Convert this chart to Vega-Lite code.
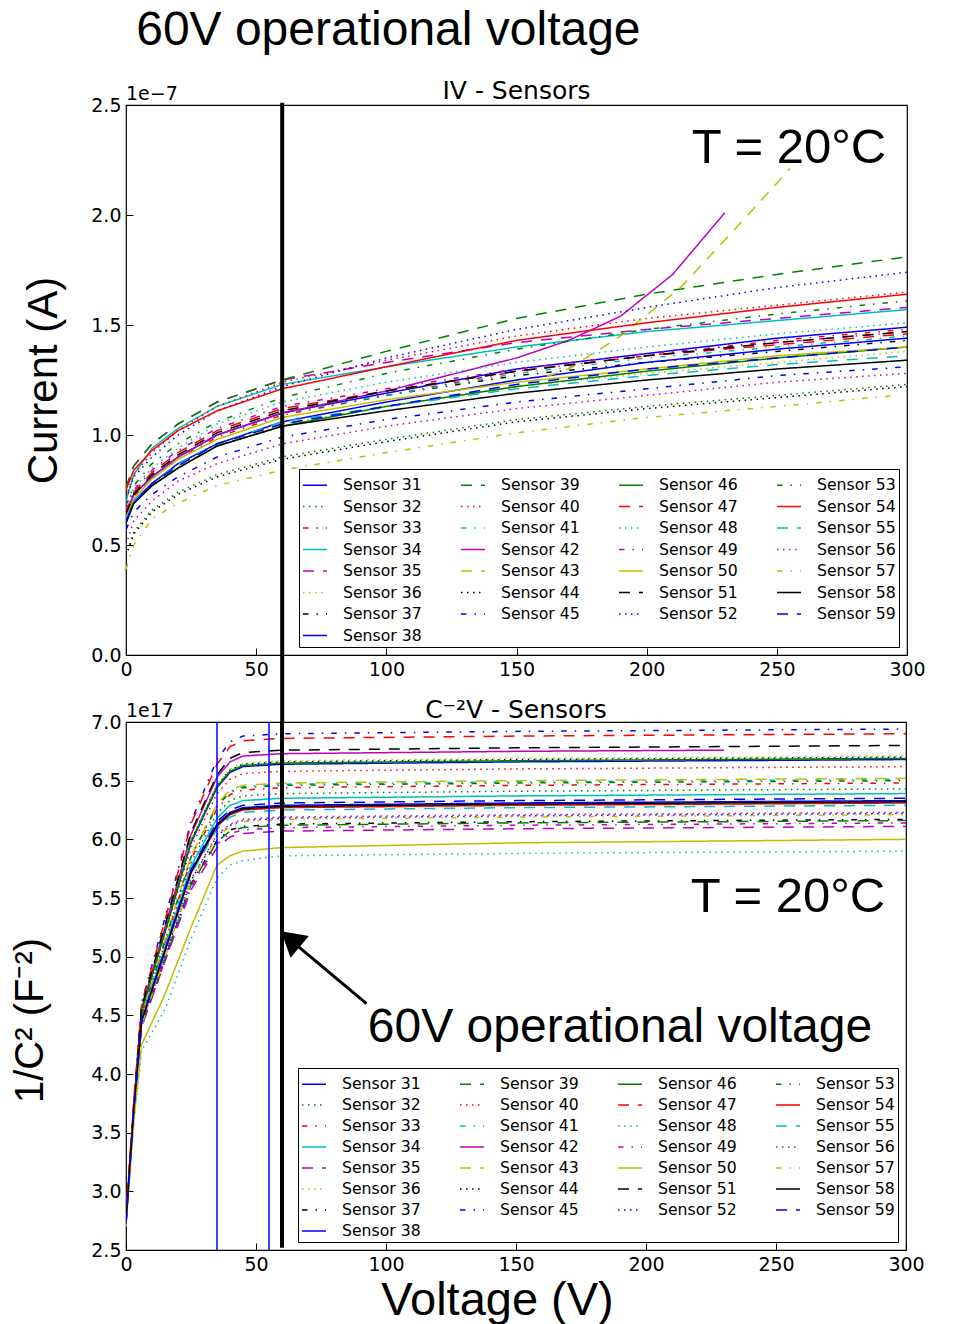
{
"$schema": "https://vega.github.io/schema/vega-lite/v6.json",
"background": "white",
"padding": {"left": 10, "top": 7, "right": 5, "bottom": 0},
"config": {
  "font": "DejaVu Sans",
  "view": {"stroke": "black", "strokeWidth": 1.2},
  "axis": {"domain": false, "grid": false, "labelFont": "DejaVu Sans", "labelFontSize": 19, "labelColor": "black", "tickColor": "black", "tickSize": -7, "labelPadding": 12, "labelFlush": false, "labelOverlap": false, "titleFont": "Liberation Sans", "titleFontWeight": "normal", "titleColor": "black"},
  "legend": {"orient": "bottom-right", "direction": "horizontal", "offset": 8, "columns": 4, "symbolType": "stroke", "symbolSize": 576, "symbolStrokeWidth": 1.5, "labelFont": "DejaVu Sans", "labelFontSize": 15.7, "labelColor": "black", "labelOffset": 15, "columnPadding": 36, "rowPadding": 0.5, "padding": 3, "strokeColor": "black", "fillColor": "white", "labelLimit": 0}
},
"title": {"text": "60V operational voltage", "font": "Liberation Sans", "fontSize": 48, "fontWeight": "normal", "color": "black", "anchor": "start", "dx": 126, "offset": 23},
"datasets": {
"iv": [
{"s":31,"v":0,"y":0.64},{"s":31,"v":3,"y":0.73},{"s":31,"v":10,"y":0.81},{"s":31,"v":20,"y":0.90},{"s":31,"v":35,"y":1.00},{"s":31,"v":60,"y":1.10},{"s":31,"v":100,"y":1.19},{"s":31,"v":150,"y":1.30},{"s":31,"v":200,"y":1.37},{"s":31,"v":250,"y":1.44},{"s":31,"v":300,"y":1.49},
{"s":32,"v":0,"y":0.45},{"s":32,"v":3,"y":0.56},{"s":32,"v":10,"y":0.66},{"s":32,"v":20,"y":0.74},{"s":32,"v":35,"y":0.82},{"s":32,"v":60,"y":0.90},{"s":32,"v":100,"y":0.98},{"s":32,"v":150,"y":1.07},{"s":32,"v":200,"y":1.13},{"s":32,"v":250,"y":1.18},{"s":32,"v":300,"y":1.23},
{"s":33,"v":0,"y":0.63},{"s":33,"v":3,"y":0.72},{"s":33,"v":10,"y":0.81},{"s":33,"v":20,"y":0.89},{"s":33,"v":35,"y":0.99},{"s":33,"v":60,"y":1.09},{"s":33,"v":100,"y":1.18},{"s":33,"v":150,"y":1.29},{"s":33,"v":200,"y":1.36},{"s":33,"v":250,"y":1.43},{"s":33,"v":300,"y":1.48},
{"s":34,"v":0,"y":0.70},{"s":34,"v":3,"y":0.82},{"s":34,"v":10,"y":0.94},{"s":34,"v":20,"y":1.03},{"s":34,"v":35,"y":1.13},{"s":34,"v":60,"y":1.23},{"s":34,"v":100,"y":1.31},{"s":34,"v":150,"y":1.40},{"s":34,"v":200,"y":1.47},{"s":34,"v":250,"y":1.52},{"s":34,"v":300,"y":1.57},
{"s":35,"v":0,"y":0.76},{"s":35,"v":3,"y":0.86},{"s":35,"v":10,"y":0.96},{"s":35,"v":20,"y":1.05},{"s":35,"v":35,"y":1.15},{"s":35,"v":60,"y":1.25},{"s":35,"v":100,"y":1.33},{"s":35,"v":150,"y":1.42},{"s":35,"v":200,"y":1.48},{"s":35,"v":250,"y":1.53},{"s":35,"v":300,"y":1.58},
{"s":36,"v":0,"y":0.61},{"s":36,"v":3,"y":0.69},{"s":36,"v":10,"y":0.78},{"s":36,"v":20,"y":0.86},{"s":36,"v":35,"y":0.96},{"s":36,"v":60,"y":1.05},{"s":36,"v":100,"y":1.13},{"s":36,"v":150,"y":1.22},{"s":36,"v":200,"y":1.28},{"s":36,"v":250,"y":1.33},{"s":36,"v":300,"y":1.38},
{"s":37,"v":0,"y":0.64},{"s":37,"v":3,"y":0.73},{"s":37,"v":10,"y":0.81},{"s":37,"v":20,"y":0.90},{"s":37,"v":35,"y":1.00},{"s":37,"v":60,"y":1.10},{"s":37,"v":100,"y":1.18},{"s":37,"v":150,"y":1.27},{"s":37,"v":200,"y":1.33},{"s":37,"v":250,"y":1.38},{"s":37,"v":300,"y":1.43},
{"s":38,"v":0,"y":0.61},{"s":38,"v":3,"y":0.70},{"s":38,"v":10,"y":0.78},{"s":38,"v":20,"y":0.87},{"s":38,"v":35,"y":0.96},{"s":38,"v":60,"y":1.06},{"s":38,"v":100,"y":1.15},{"s":38,"v":150,"y":1.25},{"s":38,"v":200,"y":1.33},{"s":38,"v":250,"y":1.39},{"s":38,"v":300,"y":1.44},
{"s":39,"v":0,"y":0.76},{"s":39,"v":3,"y":0.86},{"s":39,"v":10,"y":0.96},{"s":39,"v":20,"y":1.05},{"s":39,"v":35,"y":1.15},{"s":39,"v":60,"y":1.25},{"s":39,"v":100,"y":1.38},{"s":39,"v":150,"y":1.53},{"s":39,"v":200,"y":1.64},{"s":39,"v":250,"y":1.73},{"s":39,"v":300,"y":1.81},
{"s":40,"v":0,"y":0.72},{"s":40,"v":3,"y":0.82},{"s":40,"v":10,"y":0.92},{"s":40,"v":20,"y":1.02},{"s":40,"v":35,"y":1.13},{"s":40,"v":60,"y":1.24},{"s":40,"v":100,"y":1.34},{"s":40,"v":150,"y":1.45},{"s":40,"v":200,"y":1.53},{"s":40,"v":250,"y":1.59},{"s":40,"v":300,"y":1.65},
{"s":41,"v":0,"y":0.64},{"s":41,"v":3,"y":0.73},{"s":41,"v":10,"y":0.81},{"s":41,"v":20,"y":0.90},{"s":41,"v":35,"y":1.00},{"s":41,"v":60,"y":1.10},{"s":41,"v":100,"y":1.18},{"s":41,"v":150,"y":1.28},{"s":41,"v":200,"y":1.35},{"s":41,"v":250,"y":1.40},{"s":41,"v":300,"y":1.45},
{"s":42,"v":0,"y":0.64},{"s":42,"v":3,"y":0.73},{"s":42,"v":10,"y":0.81},{"s":42,"v":20,"y":0.90},{"s":42,"v":35,"y":1.00},{"s":42,"v":60,"y":1.10},{"s":42,"v":100,"y":1.20},{"s":42,"v":150,"y":1.35},{"s":42,"v":170,"y":1.43},{"s":42,"v":190,"y":1.54},{"s":42,"v":210,"y":1.73},{"s":42,"v":230,"y":2.01},
{"s":43,"v":0,"y":0.61},{"s":43,"v":3,"y":0.69},{"s":43,"v":10,"y":0.78},{"s":43,"v":20,"y":0.86},{"s":43,"v":35,"y":0.96},{"s":43,"v":60,"y":1.05},{"s":43,"v":100,"y":1.13},{"s":43,"v":150,"y":1.22},{"s":43,"v":170,"y":1.30},{"s":43,"v":190,"y":1.45},{"s":43,"v":213,"y":1.67},{"s":43,"v":235,"y":1.95},{"s":43,"v":255,"y":2.21},
{"s":44,"v":0,"y":0.45},{"s":44,"v":3,"y":0.55},{"s":44,"v":10,"y":0.65},{"s":44,"v":20,"y":0.73},{"s":44,"v":35,"y":0.81},{"s":44,"v":60,"y":0.89},{"s":44,"v":100,"y":0.97},{"s":44,"v":150,"y":1.06},{"s":44,"v":200,"y":1.12},{"s":44,"v":250,"y":1.17},{"s":44,"v":300,"y":1.22},
{"s":45,"v":0,"y":0.57},{"s":45,"v":3,"y":0.65},{"s":45,"v":10,"y":0.73},{"s":45,"v":20,"y":0.81},{"s":45,"v":35,"y":0.90},{"s":45,"v":60,"y":0.99},{"s":45,"v":100,"y":1.07},{"s":45,"v":150,"y":1.15},{"s":45,"v":200,"y":1.21},{"s":45,"v":250,"y":1.27},{"s":45,"v":300,"y":1.31},
{"s":46,"v":0,"y":0.60},{"s":46,"v":3,"y":0.69},{"s":46,"v":10,"y":0.77},{"s":46,"v":20,"y":0.85},{"s":46,"v":35,"y":0.95},{"s":46,"v":60,"y":1.04},{"s":46,"v":100,"y":1.13},{"s":46,"v":150,"y":1.22},{"s":46,"v":200,"y":1.29},{"s":46,"v":250,"y":1.35},{"s":46,"v":300,"y":1.40},
{"s":47,"v":0,"y":0.65},{"s":47,"v":3,"y":0.74},{"s":47,"v":10,"y":0.83},{"s":47,"v":20,"y":0.92},{"s":47,"v":35,"y":1.02},{"s":47,"v":60,"y":1.12},{"s":47,"v":100,"y":1.20},{"s":47,"v":150,"y":1.29},{"s":47,"v":200,"y":1.36},{"s":47,"v":250,"y":1.41},{"s":47,"v":300,"y":1.46},
{"s":48,"v":0,"y":0.67},{"s":48,"v":3,"y":0.76},{"s":48,"v":10,"y":0.85},{"s":48,"v":20,"y":0.94},{"s":48,"v":35,"y":1.05},{"s":48,"v":60,"y":1.15},{"s":48,"v":100,"y":1.24},{"s":48,"v":150,"y":1.33},{"s":48,"v":200,"y":1.40},{"s":48,"v":250,"y":1.46},{"s":48,"v":300,"y":1.51},
{"s":49,"v":0,"y":0.66},{"s":49,"v":3,"y":0.75},{"s":49,"v":10,"y":0.84},{"s":49,"v":20,"y":0.93},{"s":49,"v":35,"y":1.03},{"s":49,"v":60,"y":1.13},{"s":49,"v":100,"y":1.21},{"s":49,"v":150,"y":1.30},{"s":49,"v":200,"y":1.37},{"s":49,"v":250,"y":1.42},{"s":49,"v":300,"y":1.47},
{"s":50,"v":0,"y":0.63},{"s":50,"v":3,"y":0.71},{"s":50,"v":10,"y":0.80},{"s":50,"v":20,"y":0.89},{"s":50,"v":35,"y":0.98},{"s":50,"v":60,"y":1.08},{"s":50,"v":100,"y":1.16},{"s":50,"v":150,"y":1.24},{"s":50,"v":200,"y":1.30},{"s":50,"v":250,"y":1.36},{"s":50,"v":300,"y":1.40},
{"s":51,"v":0,"y":0.64},{"s":51,"v":3,"y":0.73},{"s":51,"v":10,"y":0.82},{"s":51,"v":20,"y":0.91},{"s":51,"v":35,"y":1.01},{"s":51,"v":60,"y":1.11},{"s":51,"v":100,"y":1.20},{"s":51,"v":150,"y":1.29},{"s":51,"v":200,"y":1.36},{"s":51,"v":250,"y":1.42},{"s":51,"v":300,"y":1.47},
{"s":52,"v":0,"y":0.71},{"s":52,"v":3,"y":0.81},{"s":52,"v":10,"y":0.90},{"s":52,"v":20,"y":1.00},{"s":52,"v":35,"y":1.11},{"s":52,"v":60,"y":1.22},{"s":52,"v":100,"y":1.35},{"s":52,"v":150,"y":1.48},{"s":52,"v":200,"y":1.58},{"s":52,"v":250,"y":1.67},{"s":52,"v":300,"y":1.74},
{"s":53,"v":0,"y":0.68},{"s":53,"v":3,"y":0.77},{"s":53,"v":10,"y":0.87},{"s":53,"v":20,"y":0.96},{"s":53,"v":35,"y":1.06},{"s":53,"v":60,"y":1.17},{"s":53,"v":100,"y":1.28},{"s":53,"v":150,"y":1.39},{"s":53,"v":200,"y":1.48},{"s":53,"v":250,"y":1.55},{"s":53,"v":300,"y":1.61},
{"s":54,"v":0,"y":0.75},{"s":54,"v":3,"y":0.84},{"s":54,"v":10,"y":0.93},{"s":54,"v":20,"y":1.02},{"s":54,"v":35,"y":1.11},{"s":54,"v":60,"y":1.21},{"s":54,"v":100,"y":1.31},{"s":54,"v":150,"y":1.43},{"s":54,"v":200,"y":1.51},{"s":54,"v":250,"y":1.58},{"s":54,"v":300,"y":1.64},
{"s":55,"v":0,"y":0.61},{"s":55,"v":3,"y":0.70},{"s":55,"v":10,"y":0.78},{"s":55,"v":20,"y":0.87},{"s":55,"v":35,"y":0.96},{"s":55,"v":60,"y":1.06},{"s":55,"v":100,"y":1.13},{"s":55,"v":150,"y":1.21},{"s":55,"v":200,"y":1.27},{"s":55,"v":250,"y":1.32},{"s":55,"v":300,"y":1.36},
{"s":56,"v":0,"y":0.50},{"s":56,"v":3,"y":0.61},{"s":56,"v":10,"y":0.70},{"s":56,"v":20,"y":0.79},{"s":56,"v":35,"y":0.87},{"s":56,"v":60,"y":0.96},{"s":56,"v":100,"y":1.04},{"s":56,"v":150,"y":1.12},{"s":56,"v":200,"y":1.18},{"s":56,"v":250,"y":1.24},{"s":56,"v":300,"y":1.28},
{"s":57,"v":0,"y":0.39},{"s":57,"v":3,"y":0.50},{"s":57,"v":10,"y":0.62},{"s":57,"v":20,"y":0.69},{"s":57,"v":35,"y":0.77},{"s":57,"v":60,"y":0.84},{"s":57,"v":100,"y":0.92},{"s":57,"v":150,"y":1.01},{"s":57,"v":200,"y":1.08},{"s":57,"v":250,"y":1.13},{"s":57,"v":296,"y":1.18},
{"s":58,"v":0,"y":0.60},{"s":58,"v":3,"y":0.69},{"s":58,"v":10,"y":0.77},{"s":58,"v":20,"y":0.85},{"s":58,"v":35,"y":0.95},{"s":58,"v":60,"y":1.04},{"s":58,"v":100,"y":1.11},{"s":58,"v":150,"y":1.19},{"s":58,"v":200,"y":1.25},{"s":58,"v":250,"y":1.30},{"s":58,"v":300,"y":1.34},
{"s":59,"v":0,"y":0.61},{"s":59,"v":3,"y":0.69},{"s":59,"v":10,"y":0.78},{"s":59,"v":20,"y":0.86},{"s":59,"v":35,"y":0.96},{"s":59,"v":60,"y":1.05},{"s":59,"v":100,"y":1.13},{"s":59,"v":150,"y":1.23},{"s":59,"v":200,"y":1.30},{"s":59,"v":250,"y":1.35},{"s":59,"v":300,"y":1.40}
],
"cv": [
{"s":31,"v":0,"y":2.73},{"s":31,"v":3,"y":3.70},{"s":31,"v":6,"y":4.54},{"s":31,"v":15,"y":5.21},{"s":31,"v":25,"y":5.97},{"s":31,"v":35,"y":6.44},{"s":31,"v":40,"y":6.57},{"s":31,"v":45,"y":6.62},{"s":31,"v":60,"y":6.64},{"s":31,"v":150,"y":6.66},{"s":31,"v":300,"y":6.68},
{"s":32,"v":0,"y":2.75},{"s":32,"v":3,"y":3.72},{"s":32,"v":6,"y":4.48},{"s":32,"v":15,"y":5.10},{"s":32,"v":25,"y":5.80},{"s":32,"v":35,"y":6.22},{"s":32,"v":40,"y":6.33},{"s":32,"v":45,"y":6.37},{"s":32,"v":60,"y":6.39},{"s":32,"v":150,"y":6.41},{"s":32,"v":300,"y":6.43},
{"s":33,"v":0,"y":2.80},{"s":33,"v":3,"y":3.76},{"s":33,"v":6,"y":4.49},{"s":33,"v":15,"y":5.12},{"s":33,"v":25,"y":5.83},{"s":33,"v":35,"y":6.26},{"s":33,"v":40,"y":6.38},{"s":33,"v":45,"y":6.42},{"s":33,"v":60,"y":6.44},{"s":33,"v":150,"y":6.46},{"s":33,"v":300,"y":6.48},
{"s":34,"v":0,"y":2.75},{"s":34,"v":3,"y":3.72},{"s":34,"v":6,"y":4.47},{"s":34,"v":15,"y":5.08},{"s":34,"v":25,"y":5.77},{"s":34,"v":35,"y":6.18},{"s":34,"v":40,"y":6.29},{"s":34,"v":45,"y":6.33},{"s":34,"v":60,"y":6.35},{"s":34,"v":150,"y":6.37},{"s":34,"v":300,"y":6.39},
{"s":35,"v":0,"y":2.75},{"s":35,"v":3,"y":3.70},{"s":35,"v":6,"y":4.40},{"s":35,"v":15,"y":4.96},{"s":35,"v":25,"y":5.57},{"s":35,"v":35,"y":5.93},{"s":35,"v":40,"y":6.02},{"s":35,"v":45,"y":6.05},{"s":35,"v":60,"y":6.07},{"s":35,"v":150,"y":6.09},{"s":35,"v":300,"y":6.11},
{"s":36,"v":0,"y":2.72},{"s":36,"v":3,"y":3.70},{"s":36,"v":6,"y":4.55},{"s":36,"v":15,"y":5.23},{"s":36,"v":25,"y":5.99},{"s":36,"v":35,"y":6.47},{"s":36,"v":40,"y":6.60},{"s":36,"v":45,"y":6.65},{"s":36,"v":60,"y":6.67},{"s":36,"v":150,"y":6.69},{"s":36,"v":300,"y":6.71},
{"s":37,"v":0,"y":2.75},{"s":37,"v":3,"y":3.70},{"s":37,"v":6,"y":4.41},{"s":37,"v":15,"y":4.98},{"s":37,"v":25,"y":5.62},{"s":37,"v":35,"y":5.99},{"s":37,"v":40,"y":6.08},{"s":37,"v":45,"y":6.11},{"s":37,"v":60,"y":6.13},{"s":37,"v":150,"y":6.15},{"s":37,"v":300,"y":6.17},
{"s":38,"v":0,"y":2.72},{"s":38,"v":3,"y":3.68},{"s":38,"v":6,"y":4.45},{"s":38,"v":15,"y":5.05},{"s":38,"v":25,"y":5.73},{"s":38,"v":35,"y":6.13},{"s":38,"v":40,"y":6.23},{"s":38,"v":45,"y":6.27},{"s":38,"v":60,"y":6.29},{"s":38,"v":150,"y":6.31},{"s":38,"v":300,"y":6.33},
{"s":39,"v":0,"y":2.75},{"s":39,"v":3,"y":3.70},{"s":39,"v":6,"y":4.41},{"s":39,"v":15,"y":4.98},{"s":39,"v":25,"y":5.61},{"s":39,"v":35,"y":5.98},{"s":39,"v":40,"y":6.07},{"s":39,"v":45,"y":6.10},{"s":39,"v":60,"y":6.12},{"s":39,"v":150,"y":6.14},{"s":39,"v":300,"y":6.16},
{"s":40,"v":0,"y":2.78},{"s":40,"v":3,"y":3.75},{"s":40,"v":6,"y":4.53},{"s":40,"v":15,"y":5.19},{"s":40,"v":25,"y":5.93},{"s":40,"v":35,"y":6.39},{"s":40,"v":40,"y":6.51},{"s":40,"v":45,"y":6.56},{"s":40,"v":60,"y":6.58},{"s":40,"v":150,"y":6.60},{"s":40,"v":300,"y":6.62},
{"s":41,"v":0,"y":2.75},{"s":41,"v":3,"y":3.72},{"s":41,"v":6,"y":4.50},{"s":41,"v":15,"y":5.14},{"s":41,"v":25,"y":5.85},{"s":41,"v":35,"y":6.29},{"s":41,"v":40,"y":6.41},{"s":41,"v":45,"y":6.45},{"s":41,"v":60,"y":6.47},{"s":41,"v":150,"y":6.49},{"s":41,"v":300,"y":6.51},
{"s":42,"v":0,"y":2.75},{"s":42,"v":3,"y":3.72},{"s":42,"v":6,"y":4.56},{"s":42,"v":15,"y":5.25},{"s":42,"v":25,"y":6.04},{"s":42,"v":35,"y":6.53},{"s":42,"v":40,"y":6.66},{"s":42,"v":45,"y":6.71},{"s":42,"v":60,"y":6.73},{"s":42,"v":150,"y":6.75},{"s":42,"v":230,"y":6.76},
{"s":43,"v":0,"y":2.72},{"s":43,"v":3,"y":3.70},{"s":43,"v":6,"y":4.50},{"s":43,"v":15,"y":5.14},{"s":43,"v":25,"y":5.86},{"s":43,"v":35,"y":6.30},{"s":43,"v":40,"y":6.42},{"s":43,"v":45,"y":6.46},{"s":43,"v":60,"y":6.48},{"s":43,"v":150,"y":6.50},{"s":43,"v":300,"y":6.52},
{"s":44,"v":0,"y":2.75},{"s":44,"v":3,"y":3.72},{"s":44,"v":6,"y":4.55},{"s":44,"v":15,"y":5.22},{"s":44,"v":25,"y":5.99},{"s":44,"v":35,"y":6.46},{"s":44,"v":40,"y":6.59},{"s":44,"v":45,"y":6.64},{"s":44,"v":60,"y":6.66},{"s":44,"v":150,"y":6.68},{"s":44,"v":300,"y":6.70},
{"s":45,"v":0,"y":2.75},{"s":45,"v":3,"y":3.72},{"s":45,"v":6,"y":4.61},{"s":45,"v":15,"y":5.33},{"s":45,"v":25,"y":6.15},{"s":45,"v":35,"y":6.68},{"s":45,"v":40,"y":6.83},{"s":45,"v":45,"y":6.88},{"s":45,"v":60,"y":6.90},{"s":45,"v":150,"y":6.92},{"s":45,"v":300,"y":6.94},
{"s":46,"v":0,"y":2.75},{"s":46,"v":3,"y":3.72},{"s":46,"v":6,"y":4.54},{"s":46,"v":15,"y":5.22},{"s":46,"v":25,"y":5.98},{"s":46,"v":35,"y":6.45},{"s":46,"v":40,"y":6.58},{"s":46,"v":45,"y":6.63},{"s":46,"v":60,"y":6.65},{"s":46,"v":150,"y":6.67},{"s":46,"v":300,"y":6.69},
{"s":47,"v":0,"y":2.80},{"s":47,"v":3,"y":3.78},{"s":47,"v":6,"y":4.60},{"s":47,"v":15,"y":5.31},{"s":47,"v":25,"y":6.13},{"s":47,"v":35,"y":6.64},{"s":47,"v":40,"y":6.79},{"s":47,"v":45,"y":6.84},{"s":47,"v":60,"y":6.86},{"s":47,"v":150,"y":6.88},{"s":47,"v":300,"y":6.90},
{"s":48,"v":0,"y":2.70},{"s":48,"v":3,"y":3.58},{"s":48,"v":6,"y":4.20},{"s":48,"v":15,"y":4.55},{"s":48,"v":25,"y":5.15},{"s":48,"v":35,"y":5.67},{"s":48,"v":40,"y":5.78},{"s":48,"v":45,"y":5.82},{"s":48,"v":60,"y":5.86},{"s":48,"v":150,"y":5.88},{"s":48,"v":300,"y":5.90},
{"s":49,"v":0,"y":2.75},{"s":49,"v":3,"y":3.70},{"s":49,"v":6,"y":4.41},{"s":49,"v":15,"y":4.97},{"s":49,"v":25,"y":5.59},{"s":49,"v":35,"y":5.96},{"s":49,"v":40,"y":6.05},{"s":49,"v":45,"y":6.08},{"s":49,"v":60,"y":6.10},{"s":49,"v":150,"y":6.12},{"s":49,"v":300,"y":6.14},
{"s":50,"v":0,"y":2.72},{"s":50,"v":3,"y":3.60},{"s":50,"v":6,"y":4.25},{"s":50,"v":15,"y":4.68},{"s":50,"v":25,"y":5.25},{"s":50,"v":35,"y":5.78},{"s":50,"v":40,"y":5.86},{"s":50,"v":45,"y":5.90},{"s":50,"v":60,"y":5.93},{"s":50,"v":150,"y":5.97},{"s":50,"v":300,"y":6.00},
{"s":51,"v":0,"y":2.75},{"s":51,"v":3,"y":3.72},{"s":51,"v":6,"y":4.57},{"s":51,"v":15,"y":5.27},{"s":51,"v":25,"y":6.06},{"s":51,"v":35,"y":6.55},{"s":51,"v":40,"y":6.69},{"s":51,"v":45,"y":6.74},{"s":51,"v":60,"y":6.76},{"s":51,"v":150,"y":6.78},{"s":51,"v":300,"y":6.80},
{"s":52,"v":0,"y":2.73},{"s":52,"v":3,"y":3.70},{"s":52,"v":6,"y":4.43},{"s":52,"v":15,"y":5.01},{"s":52,"v":25,"y":5.65},{"s":52,"v":35,"y":6.03},{"s":52,"v":40,"y":6.12},{"s":52,"v":45,"y":6.16},{"s":52,"v":60,"y":6.18},{"s":52,"v":150,"y":6.20},{"s":52,"v":300,"y":6.22},
{"s":53,"v":0,"y":2.75},{"s":53,"v":3,"y":3.72},{"s":53,"v":6,"y":4.50},{"s":53,"v":15,"y":5.13},{"s":53,"v":25,"y":5.85},{"s":53,"v":35,"y":6.28},{"s":53,"v":40,"y":6.40},{"s":53,"v":45,"y":6.44},{"s":53,"v":60,"y":6.46},{"s":53,"v":150,"y":6.48},{"s":53,"v":300,"y":6.50},
{"s":54,"v":0,"y":2.78},{"s":54,"v":3,"y":3.74},{"s":54,"v":6,"y":4.45},{"s":54,"v":15,"y":5.05},{"s":54,"v":25,"y":5.71},{"s":54,"v":35,"y":6.11},{"s":54,"v":40,"y":6.21},{"s":54,"v":45,"y":6.25},{"s":54,"v":60,"y":6.27},{"s":54,"v":150,"y":6.29},{"s":54,"v":300,"y":6.31},
{"s":55,"v":0,"y":2.75},{"s":55,"v":3,"y":3.70},{"s":55,"v":6,"y":4.44},{"s":55,"v":15,"y":5.04},{"s":55,"v":25,"y":5.70},{"s":55,"v":35,"y":6.09},{"s":55,"v":40,"y":6.19},{"s":55,"v":45,"y":6.23},{"s":55,"v":60,"y":6.25},{"s":55,"v":150,"y":6.27},{"s":55,"v":300,"y":6.29},
{"s":56,"v":0,"y":2.75},{"s":56,"v":3,"y":3.70},{"s":56,"v":6,"y":4.43},{"s":56,"v":15,"y":5.01},{"s":56,"v":25,"y":5.66},{"s":56,"v":35,"y":6.04},{"s":56,"v":40,"y":6.13},{"s":56,"v":45,"y":6.17},{"s":56,"v":60,"y":6.19},{"s":56,"v":150,"y":6.21},{"s":56,"v":300,"y":6.23},
{"s":57,"v":0,"y":2.70},{"s":57,"v":3,"y":3.68},{"s":57,"v":6,"y":4.42},{"s":57,"v":15,"y":5.00},{"s":57,"v":25,"y":5.64},{"s":57,"v":35,"y":6.02},{"s":57,"v":40,"y":6.11},{"s":57,"v":45,"y":6.15},{"s":57,"v":60,"y":6.17},{"s":57,"v":150,"y":6.19},{"s":57,"v":300,"y":6.21},
{"s":58,"v":0,"y":2.75},{"s":58,"v":3,"y":3.70},{"s":58,"v":6,"y":4.45},{"s":58,"v":15,"y":5.05},{"s":58,"v":25,"y":5.72},{"s":58,"v":35,"y":6.12},{"s":58,"v":40,"y":6.22},{"s":58,"v":45,"y":6.26},{"s":58,"v":60,"y":6.28},{"s":58,"v":150,"y":6.30},{"s":58,"v":300,"y":6.32},
{"s":59,"v":0,"y":2.72},{"s":59,"v":3,"y":3.68},{"s":59,"v":6,"y":4.46},{"s":59,"v":15,"y":5.06},{"s":59,"v":25,"y":5.74},{"s":59,"v":35,"y":6.15},{"s":59,"v":40,"y":6.25},{"s":59,"v":45,"y":6.29},{"s":59,"v":60,"y":6.31},{"s":59,"v":150,"y":6.33},{"s":59,"v":300,"y":6.35}
]
},
"bounds": "flush",
"spacing": 67,
"resolve": {"scale": {"color": "independent", "strokeDash": "independent"}, "legend": {"color": "independent", "strokeDash": "independent"}},
"vconcat": [
{
  "width": 781, "height": 550,
  "title": {"text": "IV - Sensors", "font": "DejaVu Sans", "fontSize": 25, "fontWeight": "normal", "color": "black", "offset": -19},
  "layer": [
    {
      "data": {"name": "iv"},
      "mark": {"type": "line", "strokeWidth": 1.5, "clip": true},
      "encoding": {
        "x": {"field": "v", "type": "quantitative", "scale": {"domain": [0, 300], "nice": false}, "axis": {"values": [0, 50, 100, 150, 200, 250, 300], "title": null}},
        "y": {"field": "y", "type": "quantitative", "scale": {"domain": [0, 2.5], "nice": false}, "axis": {"values": [0, 0.5, 1.0, 1.5, 2.0, 2.5], "format": ".1f", "title": "Current (A)", "titleFontSize": 42, "titlePadding": 25}},
        "color": {"field": "s", "type": "nominal", "sort": null,
          "scale": {"domain": [31,39,46,53,32,40,47,54,33,41,48,55,34,42,49,56,35,43,50,57,36,44,51,58,37,45,52,59,38],
                    "range": ["#0000ff","#008000","#008000","#008000","#008000","#ff0000","#ff0000","#ff0000","#ff0000","#00bfbf","#00bfbf","#00bfbf","#00bfbf","#bf00bf","#bf00bf","#bf00bf","#bf00bf","#bfbf00","#bfbf00","#bfbf00","#bfbf00","#000000","#000000","#000000","#000000","#0000ff","#0000ff","#0000ff","#0000ff"]},
          "legend": {"title": null, "labelExpr": "'Sensor ' + datum.label"}},
        "strokeDash": {"field": "s", "type": "nominal", "sort": null,
          "scale": {"domain": [31,39,46,53,32,40,47,54,33,41,48,55,34,42,49,56,35,43,50,57,36,44,51,58,37,45,52,59,38],
                    "range": [[1,0],[11,9],[1,0],[5.5,8,1.5,8],[1.5,4.5],[1.5,4.5],[11,9],[1,0],[5.5,8,1.5,8],[5.5,8,1.5,8],[1.5,4.5],[11,9],[1,0],[1,0],[5.5,8,1.5,8],[1.5,4.5],[11,9],[11,9],[1,0],[5.5,8,1.5,8],[1.5,4.5],[1.5,4.5],[11,9],[1,0],[5.5,8,1.5,8],[5.5,8,1.5,8],[1.5,4.5],[11,9],[1,0]]},
          "legend": {"title": null, "labelExpr": "'Sensor ' + datum.label"}}
      }
    },
    {
      "data": {"values": [{}]},
      "mark": {"type": "rule", "color": "black", "strokeWidth": 4},
      "encoding": {"x": {"datum": 60}, "y": {"datum": 2.51}, "y2": {"datum": -0.305}}
    },
    {
      "data": {"values": [{}]},
      "mark": {"type": "text", "align": "left", "baseline": "bottom", "dy": -1, "font": "DejaVu Sans", "fontSize": 19, "color": "black"},
      "encoding": {"x": {"datum": 0}, "y": {"datum": 2.5}, "text": {"value": "1e−7"}}
    },
    {
      "data": {"values": [{}]},
      "mark": {"type": "text", "align": "right", "baseline": "alphabetic", "font": "Liberation Sans", "fontSize": 49, "color": "black"},
      "encoding": {"x": {"datum": 292}, "y": {"datum": 2.236}, "text": {"value": "T = 20°C"}}
    }
  ]
},
{
  "width": 780, "height": 528,
  "title": {"text": "C⁻²V - Sensors", "font": "DejaVu Sans", "fontSize": 25, "fontWeight": "normal", "color": "black", "offset": -21},
  "layer": [
    {
      "data": {"name": "cv"},
      "mark": {"type": "line", "strokeWidth": 1.5, "clip": true},
      "encoding": {
        "x": {"field": "v", "type": "quantitative", "scale": {"domain": [0, 300], "nice": false}, "axis": {"values": [0, 50, 100, 150, 200, 250, 300], "title": "Voltage (V)", "titleFontSize": 47, "titlePadding": 3, "titleX": 371}},
        "y": {"field": "y", "type": "quantitative", "scale": {"domain": [2.5, 7.0], "nice": false, "zero": false}, "axis": {"values": [2.5, 3.0, 3.5, 4.0, 4.5, 5.0, 5.5, 6.0, 6.5, 7.0], "format": ".1f", "title": "1/C² (F⁻²)", "titleFontSize": 40, "titlePadding": 40, "titleY": 298}},
        "color": {"field": "s", "type": "nominal", "sort": null,
          "scale": {"domain": [31,39,46,53,32,40,47,54,33,41,48,55,34,42,49,56,35,43,50,57,36,44,51,58,37,45,52,59,38],
                    "range": ["#0000ff","#008000","#008000","#008000","#008000","#ff0000","#ff0000","#ff0000","#ff0000","#00bfbf","#00bfbf","#00bfbf","#00bfbf","#bf00bf","#bf00bf","#bf00bf","#bf00bf","#bfbf00","#bfbf00","#bfbf00","#bfbf00","#000000","#000000","#000000","#000000","#0000ff","#0000ff","#0000ff","#0000ff"]},
          "legend": {"title": null, "labelExpr": "'Sensor ' + datum.label", "rowPadding": -1}},
        "strokeDash": {"field": "s", "type": "nominal", "sort": null,
          "scale": {"domain": [31,39,46,53,32,40,47,54,33,41,48,55,34,42,49,56,35,43,50,57,36,44,51,58,37,45,52,59,38],
                    "range": [[1,0],[11,9],[1,0],[5.5,8,1.5,8],[1.5,4.5],[1.5,4.5],[11,9],[1,0],[5.5,8,1.5,8],[5.5,8,1.5,8],[1.5,4.5],[11,9],[1,0],[1,0],[5.5,8,1.5,8],[1.5,4.5],[11,9],[11,9],[1,0],[5.5,8,1.5,8],[1.5,4.5],[1.5,4.5],[11,9],[1,0],[5.5,8,1.5,8],[5.5,8,1.5,8],[1.5,4.5],[11,9],[1,0]]},
          "legend": {"title": null, "labelExpr": "'Sensor ' + datum.label", "rowPadding": -1}}
      }
    },
    {
      "data": {"values": [{}]},
      "mark": {"type": "rule", "color": "#0000ff", "strokeWidth": 1.5},
      "encoding": {"x": {"datum": 35}, "y": {"datum": 2.5}, "y2": {"datum": 7.0}}
    },
    {
      "data": {"values": [{}]},
      "mark": {"type": "rule", "color": "#0000ff", "strokeWidth": 1.5},
      "encoding": {"x": {"datum": 55}, "y": {"datum": 2.5}, "y2": {"datum": 7.0}}
    },
    {
      "data": {"values": [{}]},
      "mark": {"type": "rule", "color": "black", "strokeWidth": 4},
      "encoding": {"x": {"datum": 60}, "y": {"datum": 7.0}, "y2": {"datum": 2.52}}
    },
    {
      "data": {"values": [{}]},
      "mark": {"type": "text", "align": "left", "baseline": "bottom", "dy": -1, "font": "DejaVu Sans", "fontSize": 19, "color": "black"},
      "encoding": {"x": {"datum": 0}, "y": {"datum": 7.0}, "text": {"value": "1e17"}}
    },
    {
      "data": {"values": [{}]},
      "mark": {"type": "text", "align": "right", "baseline": "alphabetic", "font": "Liberation Sans", "fontSize": 49, "color": "black"},
      "encoding": {"x": {"datum": 292}, "y": {"datum": 5.38}, "text": {"value": "T = 20°C"}}
    },
    {
      "data": {"values": [{}]},
      "mark": {"type": "text", "align": "right", "baseline": "alphabetic", "font": "Liberation Sans", "fontSize": 48, "color": "black"},
      "encoding": {"x": {"datum": 287}, "y": {"datum": 4.27}, "text": {"value": "60V operational voltage"}}
    },
    {
      "data": {"values": [{}]},
      "mark": {"type": "rule", "color": "black", "strokeWidth": 3},
      "encoding": {"x": {"datum": 92.5}, "y": {"datum": 4.6}, "x2": {"datum": 65.5}, "y2": {"datum": 5.1}}
    },
    {
      "data": {"values": [{}]},
      "mark": {"type": "point", "shape": "triangle-up", "filled": true, "color": "black", "opacity": 1, "size": 800, "angle": 310},
      "encoding": {"x": {"datum": 63.2}, "y": {"datum": 5.15}}
    }
  ]
}
]
}
